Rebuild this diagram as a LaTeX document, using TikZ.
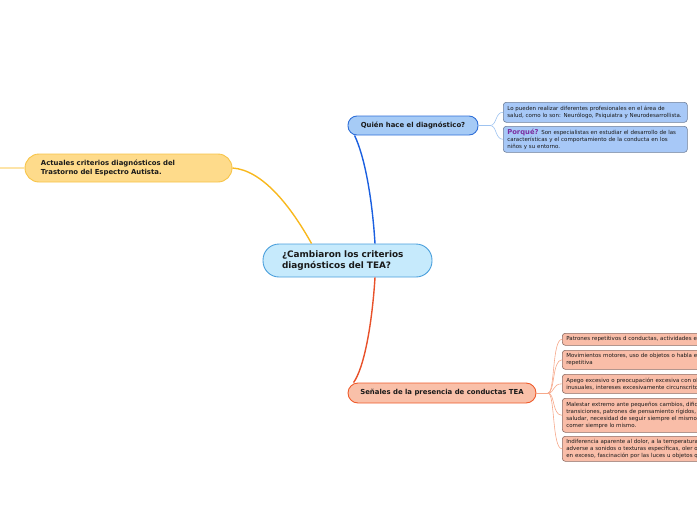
\documentclass[tikz,border=0pt]{standalone}
\usepackage{fontspec}
\setmainfont{DejaVu Sans}
\definecolor{cfill}{HTML}{C6EAFC}
\definecolor{cdraw}{HTML}{4A9FDC}
\definecolor{qfill}{HTML}{A6CBF6}
\definecolor{qdraw}{HTML}{2F6FD8}
\definecolor{qline}{HTML}{1A5FE0}
\definecolor{bfill}{HTML}{A7C8F7}
\definecolor{bdraw}{HTML}{6D7E99}
\definecolor{bline}{HTML}{9EC3F0}
\definecolor{yfill}{HTML}{FEDB8B}
\definecolor{ydraw}{HTML}{F7C447}
\definecolor{yline}{HTML}{F8B81E}
\definecolor{ytail}{HTML}{FDE4A8}
\definecolor{sfill}{HTML}{F9C0A9}
\definecolor{sdraw}{HTML}{EF5B2B}
\definecolor{sline}{HTML}{E8512A}
\definecolor{pfill}{HTML}{F9BDA8}
\definecolor{pdraw}{HTML}{8C6B62}
\definecolor{pline}{HTML}{F6A88A}
\definecolor{porq}{HTML}{7B2FA0}
\definecolor{txt}{HTML}{1A1A1A}
\begin{document}
\begin{tikzpicture}[x=1pt,y=-1pt,
  every node/.style={text=txt},
  small/.style={rectangle, rounded corners=3pt, line width=0.6pt, anchor=north west,
    align=left, inner xsep=4pt, inner ysep=0pt,
    font=\fontsize{5.5}{7.2}\selectfont},
  bluebox/.style={small, fill=bfill, draw=bdraw, text width=176pt},
  salbox/.style={small, fill=pfill, draw=pdraw, text width=192pt},
  topic/.style={rectangle, inner sep=0pt, line width=0.9pt,
    font=\fontsize{6.9}{8.6}\selectfont\bfseries},
  mainline/.style={line width=1.4pt},
  subline/.style={line width=0.6pt}]
\useasboundingbox (0,0) rectangle (697,520);

% central
\node[rectangle, rounded corners=16pt, fill=cfill, draw=cdraw, line width=0.9pt,
  minimum width=169pt, minimum height=33pt, text width=131pt, inner xsep=19pt, inner ysep=0pt,
  align=left, font=\fontsize{8.9}{11.6}\selectfont\bfseries] (c) at (347.5,260.5)
  {¿Cambiaron los criterios\\diagnósticos del TEA?};

% topics
\node[topic, rounded corners=9pt, fill=qfill, draw=qdraw, minimum width=130pt, minimum height=19pt]
  (q) at (413,125.5) {Quién hace el diagnóstico?};
\node[topic, rounded corners=10pt, fill=sfill, draw=sdraw, minimum width=188pt, minimum height=20pt]
  (s) at (442,393) {Señales de la presencia de conductas TEA};
\node[topic, rounded corners=14pt, fill=yfill, draw=ydraw, minimum width=207pt, minimum height=28pt,
  text width=175pt, inner xsep=16pt, align=left]
  (y) at (128.5,168) {Actuales criterios diagnósticos del\\Trastorno del Espectro Autista.};

% blue boxes
\node[bluebox, minimum width=184pt, minimum height=20pt] (b1) at (503,102)
  {Lo pueden realizar diferentes profesionales en el área de\\salud, como lo son: Neurólogo, Psiquiatra y Neurodesarrollista.};
\node[bluebox, minimum width=184pt, minimum height=26pt] (b2) at (503,126)
  {{\color{porq}\bfseries\fontsize{6.8}{7.2}\selectfont Porqué?} Son especialistas en estudiar el desarrollo de las\\características y el comportamiento de la conducta en los\\niños y su entorno.};

% salmon boxes
\node[salbox, minimum width=200pt, minimum height=12pt] (p1) at (562,333)
  {Patrones repetitivos d conductas, actividades e};
\node[salbox, minimum width=200pt, minimum height=19pt] (p2) at (562,350)
  {Movimientos motores, uso de objetos o habla e\\repetitiva};
\node[salbox, minimum width=200pt, minimum height=19pt] (p3) at (562,374)
  {Apego excesivo o preocupación excesiva con ob\\inusuales, intereses excesivamente circunscrito};
\node[salbox, minimum width=200pt, minimum height=34pt] (p4) at (562,398)
  {Malestar extremo ante pequeños cambios, dific\\transiciones, patrones de pensamiento rígidos,\\saludar, necesidad de seguir siempre el mismo\\comer siempre lo mismo.};
\node[salbox, minimum width=200pt, minimum height=25pt] (p5) at (562,436)
  {Indiferencia aparente al dolor, a la temperatura\\adverse a sonidos o texturas específicas, oler o\\en exceso, fascinación por las luces u objetos q};

% branch points and tail
\coordinate (qb) at (490,125.5);
\coordinate (sb) at (548,393);
\coordinate (tail) at (0,168);

% main connectors
\draw[mainline, draw=qline] ([xshift=27.5pt]c.north) .. controls (372,195) and (364,155) .. ([xshift=7pt]q.south west);
\draw[mainline, draw=sline] ([xshift=27.5pt]c.south) .. controls (372,325) and (364,368) .. ([xshift=6pt]s.north west);
\draw[mainline, draw=yline] ([xshift=49pt]c.north west) .. controls (290,205) and (262,170) .. (y.east);
\draw[mainline, draw=ytail] (y.west) -- (tail);

% sub connectors
\draw[line width=1pt, draw=bline] (q.east) -- (qb);
\foreach \b in {b1,b2}
  \draw[subline, draw=bline] (qb) .. controls (497,125.5) and (495,0 |- \b.west) .. (\b.west);
\draw[line width=1pt, draw=pline] (s.east) -- (sb);
\foreach \b in {p1,p2,p3,p4,p5}
  \draw[subline, draw=pline] (sb) .. controls (555,393) and (552,0 |- \b.west) .. (\b.west);
\end{tikzpicture}
\end{document}
